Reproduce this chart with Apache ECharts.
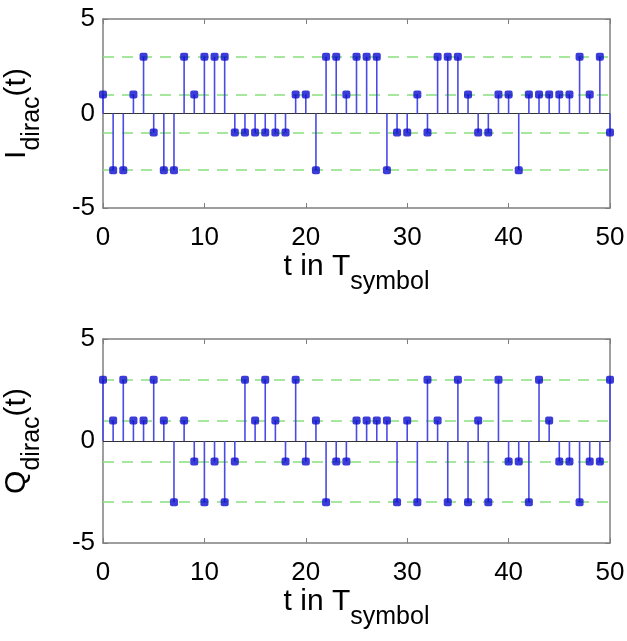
<!DOCTYPE html>
<html><head><meta charset="utf-8">
<script src="https://cdn.jsdelivr.net/npm/echarts@6/dist/echarts.min.js"></script>
<style>html,body{margin:0;padding:0;background:#fff}#c{width:627px;height:641px}</style>
</head><body><div id="c"></div>
<script>
const tValues = [0,1,2,3,4,5,6,7,8,9,10,11,12,13,14,15,16,17,18,19,20,21,22,23,24,25,26,27,28,29,30,31,32,33,34,35,36,37,38,39,40,41,42,43,44,45,46,47,48,49,50];
const iValues = [1,-3,-3,1,3,-1,-3,-3,3,1,3,3,3,-1,-1,-1,-1,-1,-1,1,1,-3,3,3,1,3,3,3,-3,-1,-1,1,-1,3,3,3,1,-1,-1,1,1,-3,1,1,1,1,1,3,1,3,-1];
const qValues = [3,1,3,1,1,3,1,-3,1,-1,-3,-1,-3,-1,3,1,3,1,-1,3,-1,1,-3,-1,-1,1,1,1,1,-3,1,-3,3,1,-3,3,-3,1,-3,3,-1,-1,-3,3,1,-1,-1,-3,-1,-1,3];
const levelLines = [-3,-1,1,3];
const baseLine = 0;
const xTicks = [0,10,20,30,40,50];
const yTicks = [-5,0,5];
const yNames = [['I','dirac','(t)'],['Q','dirac','(t)']];
const xName = ['t in T','symbol'];

const FONT = '"Liberation Sans", Arial, Helvetica, sans-serif';
const chart = echarts.init(document.getElementById('c'), null, {renderer:'canvas'});

const grids = [
  {left:103, top:19, width:507, height:189},
  {left:103, top:339, width:507, height:204}
];
const boxColor = '#7f7f7f';
const richX = {
  a:{fontSize:30, fontFamily:FONT, color:'#000', lineHeight:32, verticalAlign:'bottom', padding:[0,0,13,0]},
  b:{fontSize:25, fontFamily:FONT, color:'#000', lineHeight:26, verticalAlign:'bottom'}
};
const xAxes = [], yAxes = [], series = [];
grids.forEach((g, gi) => {
  const common = {gridIndex:gi, type:'value', min:xTicks[0], max:xTicks[xTicks.length-1], interval:xTicks[1]-xTicks[0],
    splitLine:{show:false},
    axisLine:{show:true, onZero:false, lineStyle:{color:boxColor, width:1.5}},
    axisTick:{show:true, inside:true, length:5, lineStyle:{color:boxColor, width:1}}};
  xAxes.push(Object.assign({}, common, {position:'bottom',
    axisLabel:{show:true, fontSize:26, fontFamily:FONT, color:'#000', margin:17},
    name:'{a|' + xName[0] + '}{b|' + xName[1] + '}', nameLocation:'middle', nameGap:54,
    nameTextStyle:{rich:richX}}));
  xAxes.push(Object.assign({}, common, {position:'top', axisLabel:{show:false}}));
  const ycommon = {gridIndex:gi, type:'value', min:yTicks[0], max:yTicks[yTicks.length-1], interval:yTicks[1]-yTicks[0],
    splitLine:{show:false},
    axisLine:{show:true, onZero:false, lineStyle:{color:boxColor, width:1.5}},
    axisTick:{show:true, inside:true, length:5, lineStyle:{color:boxColor, width:1}}};
  const yn = yNames[gi];
  yAxes.push(Object.assign({}, ycommon, {position:'left',
    axisLabel:{show:true, fontSize:26, fontFamily:FONT, color:'#000', margin:8},
    name:'{a|' + yn[0] + '}{b|' + yn[1] + '}{a|' + yn[2] + '}', nameLocation:'middle', nameGap:58, nameRotate:90,
    nameTextStyle:{rich:richX}}));
  yAxes.push(Object.assign({}, ycommon, {position:'right', axisLabel:{show:false}}));

  const vals = gi === 0 ? iValues : qValues;
  const pts = tValues.map((t, i) => [t, vals[i]]);
  const xi = gi*2, yi = gi*2;
  series.push({
    type:'line', xAxisIndex:xi, yAxisIndex:yi, data:[], z:1, silent:true,
    markLine:{silent:true, symbol:'none', animation:false, z:1, label:{show:false},
      data: levelLines.map(v => ({yAxis:v, lineStyle:{type:[11,8], color:'#86e07e', width:1.6}}))
        .concat([{yAxis:baseLine, lineStyle:{type:'solid', color:'#333', width:1.2}}])}
  });
  series.push({
    type:'custom', xAxisIndex:xi, yAxisIndex:yi, data:pts, z:2, silent:true,
    renderItem:(params, api) => {
      const p0 = api.coord([api.value(0), baseLine]);
      const p1 = api.coord([api.value(0), api.value(1)]);
      return {type:'line', shape:{x1:p0[0], y1:p0[1], x2:p1[0], y2:p1[1]},
        style:{stroke:'#4a4ae6', lineWidth:1.6}};
    }
  });
  series.push({
    type:'scatter', xAxisIndex:xi, yAxisIndex:yi, data:pts, z:3, silent:true,
    symbol:'roundRect', symbolSize:8, itemStyle:{color:'#0b0bd0'}
  });
});

chart.setOption({
  animation:false,
  backgroundColor:'#fff',
  grid:grids.map(g => Object.assign({containLabel:false, outerBoundsMode:'none'}, g)),
  xAxis:xAxes, yAxis:yAxes, series:series
});
</script>
</body></html>
